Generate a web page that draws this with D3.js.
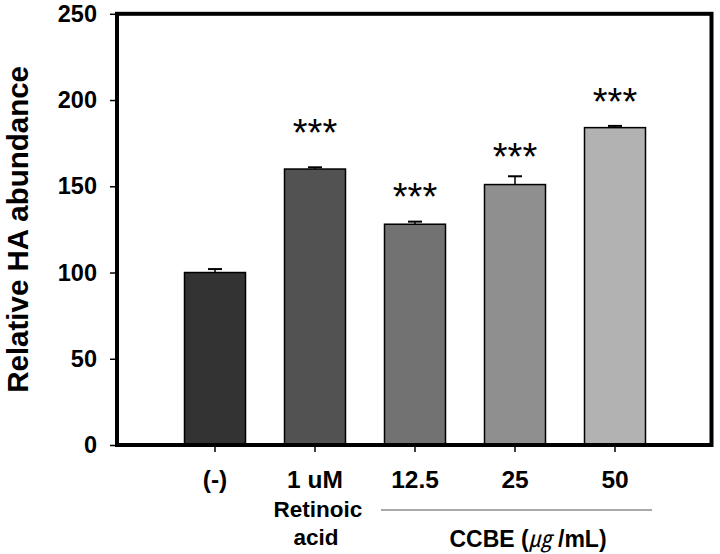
<!DOCTYPE html>
<html>
<head>
<meta charset="utf-8">
<script src="https://cdn.jsdelivr.net/npm/d3@7"></script>
<style>
  body { margin: 0; background: #fff; }
  text { font-family: "Liberation Sans", Arial, "Noto Sans CJK KR", sans-serif; font-weight: bold; }
</style>
</head>
<body>
<script>
// data
var categories = ["(-)", "1 uM", "12.5", "25", "50"];
var values = [100, 160, 128, 151, 184];
var errors = [2, 1, 1.5, 4.8, 1];
var barColors = ["#333333", "#525252", "#727272", "#8f8f8f", "#b2b2b2"];
// level (in y units) where the *** marks sit, none for control
var sigLevel = [null, 186, 149, 172, 204];
var yTicks = [0, 50, 100, 150, 200, 250];

var width = 720, height = 554;
var box = {left: 117, right: 713, top: 13.8, bottom: 445};

var svg = d3.select("body").append("svg")
    .attr("width", width)
    .attr("height", height);

var x = d3.scaleBand()
    .domain(categories)
    .range([box.left, box.right])
    .paddingInner(0.39)
    .paddingOuter(0.675);

var y = d3.scaleLinear()
    .domain([0, 250])
    .range([box.bottom, box.top]);

// bars
svg.selectAll(".bar")
    .data(values)
    .enter()
    .append("rect")
    .attr("class", "bar")
    .attr("x", function(d, i){ return x(categories[i]); })
    .attr("y", function(d){ return y(d); })
    .attr("width", x.bandwidth())
    .attr("height", function(d){ return y(0) - y(d); })
    .attr("fill", function(d, i){ return barColors[i]; })
    .attr("stroke", "#000")
    .attr("stroke-width", 1.5);

// error bars (upper only)
var errG = svg.selectAll(".err")
    .data(values)
    .enter()
    .append("g")
    .attr("class", "err");
errG.append("line")
    .attr("x1", function(d, i){ return x(categories[i]) + x.bandwidth()/2; })
    .attr("x2", function(d, i){ return x(categories[i]) + x.bandwidth()/2; })
    .attr("y1", function(d){ return y(d); })
    .attr("y2", function(d, i){ return y(d + errors[i]); })
    .attr("stroke", "#000")
    .attr("stroke-width", 1.5);
errG.append("line")
    .attr("x1", function(d, i){ return x(categories[i]) + x.bandwidth()/2 - 7; })
    .attr("x2", function(d, i){ return x(categories[i]) + x.bandwidth()/2 + 7; })
    .attr("y1", function(d, i){ return y(d + errors[i]); })
    .attr("y2", function(d, i){ return y(d + errors[i]); })
    .attr("stroke", "#000")
    .attr("stroke-width", 2);

// significance stars
svg.selectAll(".sig")
    .data(sigLevel.filter(function(d){ return d !== null; }))
    .enter()
    .append("text")
    .attr("class", "sig")
    .attr("x", function(d){ return x(categories[sigLevel.indexOf(d)]) + x.bandwidth()/2; })
    .attr("y", function(d){ return y(d) + 22; })
    .attr("text-anchor", "middle")
    .attr("font-size", 38)
    .style("font-weight", "normal")
    .text("***");

// frame
svg.append("rect")
    .attr("x", box.left)
    .attr("y", box.top)
    .attr("width", box.right - box.left - 1.5)
    .attr("height", box.bottom - box.top)
    .attr("fill", "none")
    .attr("stroke", "#000")
    .attr("stroke-width", 4);

// y axis
var yAxis = svg.append("g")
    .attr("transform", "translate(" + (box.left - 2) + ",0)")
    .call(d3.axisLeft(y).tickValues(yTicks).tickSize(5).tickPadding(13));
yAxis.select(".domain").remove();
yAxis.selectAll("line").attr("stroke-width", 1.5);
yAxis.selectAll("text")
    .attr("font-size", 23.5)
    .attr("fill", "#000")
    .style("font-family", "'Liberation Sans', Arial, sans-serif");

// x ticks + labels
var xAxis = svg.append("g")
    .attr("transform", "translate(0," + (box.bottom + 2) + ")")
    .call(d3.axisBottom(x).tickSize(5).tickPadding(19));
xAxis.select(".domain").remove();
xAxis.selectAll("line").attr("stroke-width", 1.5);
xAxis.selectAll("text")
    .attr("font-size", 24.5)
    .attr("fill", "#000")
    .style("font-family", "'Liberation Sans', Arial, sans-serif");

// group labels under the x axis
var cx = function(c){ return x(c) + x.bandwidth()/2; };
svg.append("text")
    .attr("x", cx("1 uM") + 3)
    .attr("y", 517)
    .attr("text-anchor", "middle")
    .attr("font-size", 22.5)
    .text("Retinoic");
svg.append("text")
    .attr("x", cx("1 uM") + 1)
    .attr("y", 545)
    .attr("text-anchor", "middle")
    .attr("font-size", 22.5)
    .text("acid");

svg.append("line")
    .attr("x1", cx("12.5") - 34)
    .attr("x2", cx("50") + 37)
    .attr("y1", 510)
    .attr("y2", 510)
    .attr("stroke", "#555")
    .attr("stroke-width", 1);

var ccbe = svg.append("text")
    .attr("x", 528)
    .attr("y", 547)
    .attr("text-anchor", "middle")
    .attr("font-size", 23);
ccbe.append("tspan").text("CCBE (");
ccbe.append("tspan")
    .style("font-family", "'Noto Sans CJK KR', sans-serif")
    .style("font-weight", "normal")
    .style("font-style", "italic")
    .text("㎍");
ccbe.append("tspan").text(" /mL)");

// y title
svg.append("text")
    .attr("transform", "translate(28," + ((box.top + box.bottom)/2) + ") rotate(-90)")
    .attr("text-anchor", "middle")
    .attr("font-size", 29.5)
    .text("Relative HA abundance");
</script>
</body>
</html>
